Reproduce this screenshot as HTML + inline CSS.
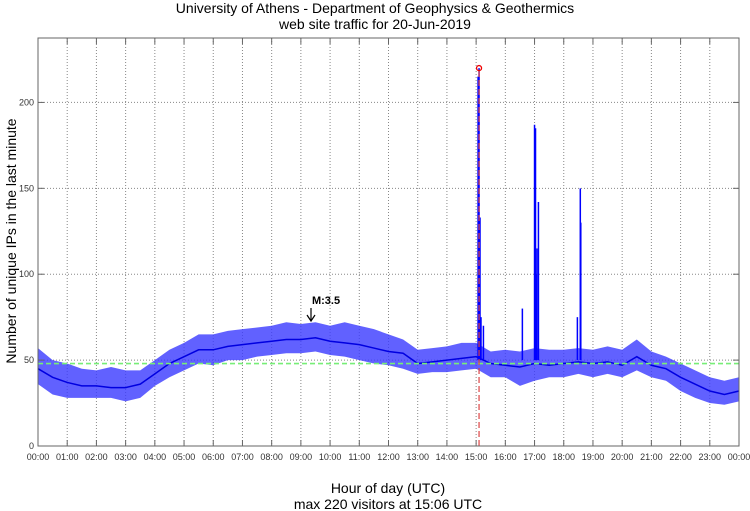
<!DOCTYPE html>
<html><head><meta charset="utf-8"><style>
body{margin:0;background:#fff;}
svg{display:block;font-family:"Liberation Sans",sans-serif;}
</style></head><body>
<svg id="chart" width="750" height="511">
<text x="375" y="13" text-anchor="middle" font-size="14">University of Athens - Department of Geophysics &amp; Geothermics</text>
<text x="375" y="29" text-anchor="middle" font-size="14">web site traffic for 20-Jun-2019</text>
<text transform="translate(16,241) rotate(-90)" text-anchor="middle" font-size="14">Number of unique IPs in the last minute</text>
<text x="388" y="493" text-anchor="middle" font-size="14">Hour of day (UTC)</text>
<text x="388" y="509" text-anchor="middle" font-size="14">max 220 visitors at 15:06 UTC</text>
<g id="grid"></g><g id="series"></g><g id="axes"></g>
</svg>
<script>
const halfHours = [0,30,60,90,120,150,180,210,240,270,300,330,360,390,420,450,480,510,540,570,600,630,660,690,720,750,780,810,840,870,900,930,960,990,1020,1050,1080,1110,1140,1170,1200,1230,1260,1290,1320,1350,1380,1410,1440];
const meanVals = [45,40,37,35,35,34,34,36,42,48,52,56,56,58,59,60,61,62,62,63,61,60,59,57,55,54,48,49,50,51,52,48,47,46,48,47,48,49,48,49,47,52,47,45,40,36,32,30,32];
const lowVals  = [36,30,28,28,28,28,26,28,35,40,44,48,47,50,50,52,53,54,54,55,53,52,50,48,47,45,42,43,43,44,45,40,40,35,38,40,40,42,40,42,40,44,40,38,32,28,25,24,26];
const highVals = [57,50,48,45,44,46,44,44,50,56,60,65,65,67,68,69,70,72,71,72,70,72,70,68,65,62,56,57,58,60,60,55,56,55,57,56,56,57,56,58,56,62,55,52,48,44,40,38,40];
const spikeMinutes = [904,906,908,910,915,995,1020,1022,1023,1025,1028,1108,1114,1115];
const spikeValues  = [215,220,133,75,70,80,187,185,100,115,142,75,150,130];
const yTicks = [0,50,100,150,200];
const hourLabels = ["00:00","01:00","02:00","03:00","04:00","05:00","06:00","07:00","08:00","09:00","10:00","11:00","12:00","13:00","14:00","15:00","16:00","17:00","18:00","19:00","20:00","21:00","22:00","23:00","00:00"];
const avgLevel = 48;
const maxMinute = 906, maxValue = 220;

const X0=38,X1=739,Y0=446,YT=38,YMAX=237.5;
const xs=m=>X0+m/1440*(X1-X0);
const ys=v=>Y0-v/YMAX*(Y0-YT);
const NS="http://www.w3.org/2000/svg";
function mk(parent,tag,attrs){const e=document.createElementNS(NS,tag);for(const k in attrs)e.setAttribute(k,attrs[k]);document.getElementById(parent).appendChild(e);return e;}

mk("grid","rect",{x:X0,y:YT,width:X1-X0,height:Y0-YT,fill:"#fff",stroke:"none"});
hourLabels.forEach((lab,i)=>{
  const x=xs(i*60);
  if(i>0&&i<24){const l=mk("grid","line",{x1:x,x2:x,y1:YT,y2:Y0,stroke:"#888","stroke-width":1,"stroke-dasharray":"1,2"});
  
  }
  mk("axes","line",{x1:x,x2:x,y1:Y0,y2:Y0-6,stroke:"#666"});
  mk("axes","line",{x1:x,x2:x,y1:YT,y2:YT+6,stroke:"#666"});
  const t=mk("axes","text",{x:x,y:Y0+14,"text-anchor":"middle","font-size":9,fill:"#333"});
  t.textContent=lab;
  
  
});
yTicks.forEach(v=>{
  const y=ys(v);
  if(v>0){const l=mk("grid","line",{x1:X0,x2:X1,y1:y,y2:y,stroke:"#888","stroke-dasharray":"1,2"});
  
  }
  mk("axes","line",{x1:X0,x2:X0+6,y1:y,y2:y,stroke:"#666"});
  mk("axes","line",{x1:X1,x2:X1-6,y1:y,y2:y,stroke:"#666"});
  const t=mk("axes","text",{x:X0-4,y:y+3,"text-anchor":"end","font-size":9,fill:"#333"});
  t.textContent=v;
  
  
});
let up=halfHours.map((m,i)=>xs(m)+","+ys(highVals[i]));
let dn=halfHours.map((m,i)=>xs(m)+","+ys(lowVals[i])).reverse();
const band=mk("series","polygon",{points:up.concat(dn).join(" "),fill:"#3a3aff","fill-opacity":0.8});


const ml=mk("series","polyline",{points:halfHours.map((m,i)=>xs(m)+","+ys(meanVals[i])).join(" "),fill:"none",stroke:"#0000e0","stroke-width":1.5});


spikeMinutes.forEach((m,i)=>{
  const s=mk("series","line",{x1:xs(m),x2:xs(m),y1:ys(50),y2:ys(spikeValues[i]),stroke:"#0000ff","stroke-width":1.5});
  
  
});
const avg=mk("series","line",{x1:X0,x2:X1,y1:ys(avgLevel),y2:ys(avgLevel),stroke:"#77ee77","stroke-width":1.6,"stroke-dasharray":"5,3"});


const mv=mk("series","line",{x1:xs(maxMinute),x2:xs(maxMinute),y1:Y0,y2:ys(maxValue),stroke:"#dd4444","stroke-width":1.2,"stroke-dasharray":"6,3"});


const mc=mk("series","circle",{cx:xs(maxMinute),cy:ys(maxValue),r:2.5,fill:"none",stroke:"#ee0000","stroke-width":1.3});


const fr=mk("axes","rect",{x:X0,y:YT,width:X1-X0,height:Y0-YT,fill:"none",stroke:"#666"});


const an=mk("axes","text",{x:326,y:304,"text-anchor":"middle","font-size":11,"font-weight":"bold"});
an.textContent="M:3.5";


mk("axes","line",{x1:311,x2:311,y1:308,y2:320,stroke:"#000","stroke-width":1.2});
mk("axes","path",{d:"M307,315 L311,321 L315,315",fill:"none",stroke:"#000","stroke-width":1.2});
</script>
</body></html>
